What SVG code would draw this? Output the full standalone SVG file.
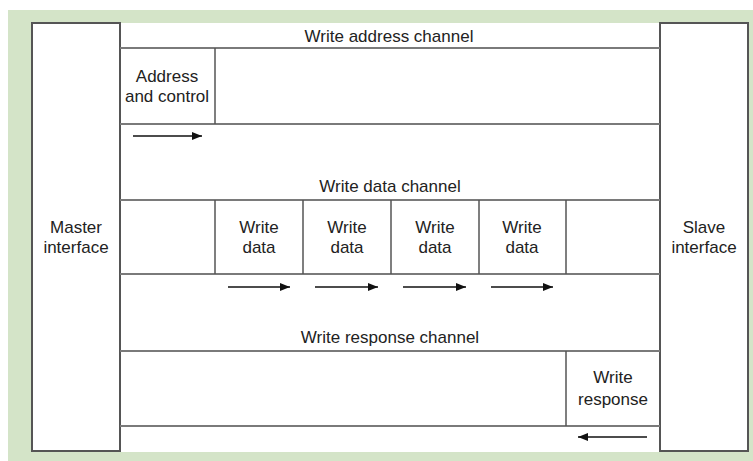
<svg xmlns="http://www.w3.org/2000/svg" width="753" height="461" viewBox="0 0 753 461">
<style>
.t{font-family:"Liberation Sans",Arial,sans-serif;font-size:17px;fill:#222;text-anchor:middle}
.ln{stroke:#7a7a7a;stroke-width:2;fill:none}
.vl{stroke:#555;stroke-width:1.5;fill:none}
.box{fill:#fff;stroke:#555;stroke-width:2}
.ar{stroke:#111;stroke-width:1.3;fill:none}
</style>
<defs>
<marker id="ah" viewBox="0 0 10 8" refX="10" refY="4" markerWidth="10" markerHeight="8" markerUnits="userSpaceOnUse" orient="auto">
<path d="M0,0 L10,4 L0,8 Z" fill="#111"/>
</marker>
</defs>
<rect x="0" y="0" width="753" height="461" fill="#fff"/>
<rect x="8" y="10" width="745" height="451" fill="#d4e4c8"/>
<rect x="32" y="23" width="716" height="429" fill="#fff"/>
<g id="master"><rect class="box" x="32" y="23" width="88" height="428"/>
<text class="t" x="76" y="233">Master</text><text class="t" x="76" y="253">interface</text></g>
<g id="slave"><rect class="box" x="660" y="23" width="88" height="428"/>
<text class="t" x="704" y="233">Slave</text><text class="t" x="704" y="253">interface</text></g>
<g id="addr-channel">
<text class="t" x="389" y="42">Write address channel</text>
<line class="ln" x1="120" y1="48" x2="660" y2="48"/>
<line class="ln" x1="120" y1="124" x2="660" y2="124"/>
</g>
<g id="addr-ctrl"><line class="vl" x1="215" y1="48" x2="215" y2="124"/>
<text class="t" x="167" y="82">Address</text><text class="t" x="167" y="102">and control</text></g>
<g id="data-channel">
<text class="t" x="390" y="192">Write data channel</text>
<line class="ln" x1="120" y1="200" x2="660" y2="200"/>
<line class="ln" x1="120" y1="274" x2="660" y2="274"/>
<line class="vl" x1="215" y1="200" x2="215" y2="274"/>
<line class="vl" x1="303" y1="200" x2="303" y2="274"/>
<line class="vl" x1="391" y1="200" x2="391" y2="274"/>
<line class="vl" x1="479" y1="200" x2="479" y2="274"/>
<line class="vl" x1="566" y1="200" x2="566" y2="274"/>
</g>
<g id="wd1"><text class="t" x="259" y="233">Write</text><text class="t" x="259" y="253">data</text></g>
<g id="wd2"><text class="t" x="347" y="233">Write</text><text class="t" x="347" y="253">data</text></g>
<g id="wd3"><text class="t" x="435" y="233">Write</text><text class="t" x="435" y="253">data</text></g>
<g id="wd4"><text class="t" x="522" y="233">Write</text><text class="t" x="522" y="253">data</text></g>
<g id="resp-channel">
<text class="t" x="390" y="343">Write response channel</text>
<line class="ln" x1="120" y1="351" x2="660" y2="351"/>
<line class="ln" x1="120" y1="426" x2="660" y2="426"/>
<line class="vl" x1="566" y1="351" x2="566" y2="426"/>
</g>
<g id="wresp"><text class="t" x="613" y="383">Write</text><text class="t" x="613" y="405">response</text></g>
<g id="connectors">
<line class="ar" x1="133" y1="136" x2="202" y2="136" marker-end="url(#ah)"/>
<line class="ar" x1="228" y1="287" x2="290" y2="287" marker-end="url(#ah)"/>
<line class="ar" x1="315" y1="287" x2="378" y2="287" marker-end="url(#ah)"/>
<line class="ar" x1="403" y1="287" x2="466" y2="287" marker-end="url(#ah)"/>
<line class="ar" x1="491" y1="287" x2="553" y2="287" marker-end="url(#ah)"/>
<line class="ar" x1="647" y1="437" x2="578" y2="437" marker-end="url(#ah)"/>
</g>
</svg>
